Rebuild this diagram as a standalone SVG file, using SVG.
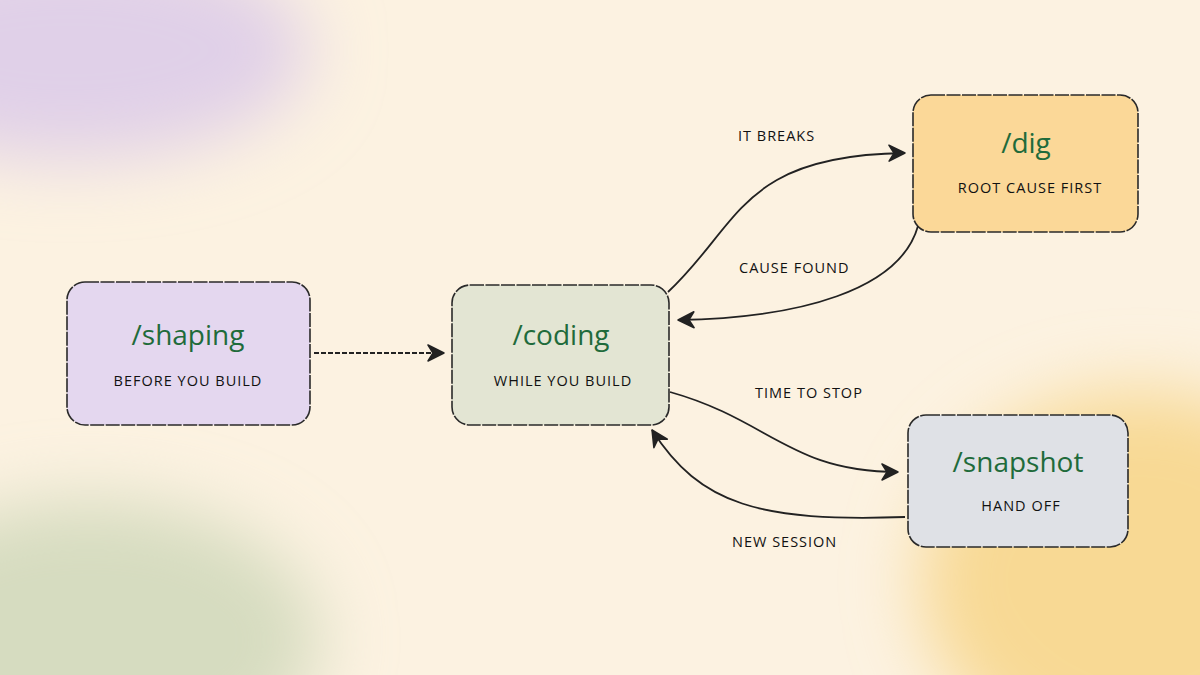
<svg xmlns="http://www.w3.org/2000/svg" width="1200" height="675" viewBox="0 0 1200 675">
<defs>
<filter id="blur" x="-50%" y="-50%" width="200%" height="200%"><feGaussianBlur stdDeviation="35"/></filter>
<marker id="ah" viewBox="0 0 20 20" refX="18" refY="10" markerWidth="20" markerHeight="20" markerUnits="userSpaceOnUse" orient="auto">
<path d="M2,2 L18,10 L2,18 L7,10 Z" fill="#222" stroke="#222" stroke-width="1.5" stroke-linejoin="round"/>
</marker>
<style>
.box{stroke:#2a2a2a;stroke-width:1.6;stroke-dasharray:14 1.5}
.t{font-family:"Open Sans","DejaVu Sans",sans-serif;font-size:28px;fill:#1f6b3b;text-anchor:middle}
.s{font-family:"Open Sans","DejaVu Sans",sans-serif;font-size:14.5px;fill:#111;text-anchor:middle;letter-spacing:1px}
.l{font-family:"Open Sans","DejaVu Sans",sans-serif;font-size:14.5px;fill:#111;letter-spacing:1px}
.c{fill:none;stroke:#222;stroke-width:1.8;marker-end:url(#ah)}
</style>
</defs>
<rect width="1200" height="675" fill="#fcf2e1"/>
<g filter="url(#blur)">
<ellipse cx="70" cy="50" rx="240" ry="110" fill="#e0d0e8"/>
<ellipse cx="90" cy="640" rx="230" ry="140" fill="#d6dcc0"/>
<ellipse cx="1140" cy="580" rx="220" ry="190" fill="#f8d994"/>
</g>
<g id="shaping"><rect class="box" x="67" y="282" width="243" height="143" rx="18" fill="#e4d7ef"/>
<text class="t" x="188" y="345">/shaping</text><text class="s" x="188" y="386">BEFORE YOU BUILD</text></g>
<g id="coding"><rect class="box" x="452" y="285" width="217" height="140" rx="18" fill="#e3e5d3"/>
<text class="t" x="561" y="345">/coding</text><text class="s" x="563" y="386">WHILE YOU BUILD</text></g>
<g id="dig"><rect class="box" x="913" y="95" width="225" height="137" rx="18" fill="#fbd898"/>
<text class="t" x="1026" y="153">/dig</text><text class="s" x="1030" y="193">ROOT CAUSE FIRST</text></g>
<g id="snapshot"><rect class="box" x="908" y="415" width="220" height="132" rx="18" fill="#dfe1e6"/>
<text class="t" x="1018" y="472">/snapshot</text><text class="s" x="1021" y="511">HAND OFF</text></g>
<g id="connectors">
<path class="c" d="M314,353 L444,353" stroke-dasharray="5 2"/>
<path class="c" d="M668,292 C740,225 740,155 905,153"/>
<path class="c" d="M918,226 C900,290 800,318 678,320"/>
<path class="c" d="M670,392 C770,420 790,472 898,472"/>
<path class="c" d="M905,517 C760,522 700,505 652,430"/>
<text class="l" x="738" y="141">IT BREAKS</text>
<text class="l" x="739" y="273">CAUSE FOUND</text>
<text class="l" x="755" y="398">TIME TO STOP</text>
<text class="l" x="732" y="547">NEW SESSION</text>
</g>
</svg>
